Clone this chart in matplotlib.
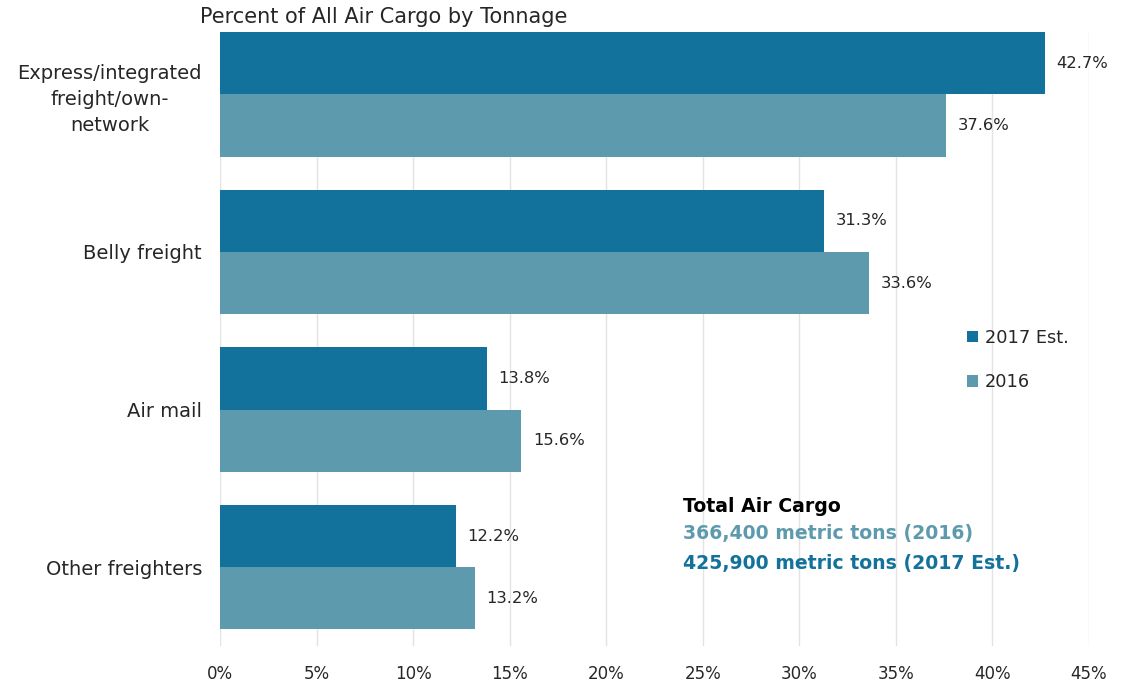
import matplotlib.pyplot as plt
import numpy as np

categories = ['Express/integrated\nfreight/own-\nnetwork', 'Belly freight', 'Air mail', 'Other freighters']
est_2017 = [42.7, 31.3, 13.8, 12.2]
val_2016 = [37.6, 33.6, 15.6, 13.2]
xticks = [0, 5, 10, 15, 20, 25, 30, 35, 40, 45]

dark = '#13729c'
light = '#5e9aad'
txt = '#262626'

plt.rcParams['font.family'] = ['DejaVu Sans']

fig = plt.figure(figsize=(11.29, 6.87), dpi=100)
ax = fig.add_axes([0.1949, 0.0597, 0.7697, 0.8937])

pos = np.arange(len(categories))[::-1]
h = 0.395
b1 = ax.barh(pos + h / 2, est_2017, height=h, color=dark, label='2017 Est.')
b2 = ax.barh(pos - h / 2, val_2016, height=h, color=light, label='2016')

for bars, vals in ((b1, est_2017), (b2, val_2016)):
    for bar, v in zip(bars, vals):
        ax.text(v + 0.6, bar.get_y() + bar.get_height() / 2, f'{v:.1f}%',
                va='center', ha='left', fontsize=11.8, color=txt)

ax.set_xlim(0, 45)
ax.set_ylim(-0.5, 3.395)
ax.set_xticks(xticks)
ax.set_xticklabels([f'{t}%' for t in xticks], fontsize=12, color=txt)
ax.set_yticks(pos)
ax.set_yticklabels(categories, fontsize=14, color=txt, ha='right',
                   multialignment='center', linespacing=1.45)
ax.tick_params(axis='y', length=0, pad=13)
ax.tick_params(axis='x', length=0, pad=14)
ax.xaxis.grid(True, color='#e3e3e3', linewidth=1)
ax.set_axisbelow(True)
for s in ax.spines.values():
    s.set_visible(False)

fig.text(200 / 1129, 1 - 17 / 687, 'Percent of All Air Cargo by Tonnage',
         fontsize=15, color=txt, va='center', ha='left')

leg = ax.legend(loc='center left', bbox_to_anchor=(951 / 1129, 1 - 360 / 687),
                bbox_transform=fig.transFigure, frameon=False, fontsize=12.8,
                handlelength=0.6, handleheight=0.6, handletextpad=0.4,
                labelspacing=1.5)
for t in leg.get_texts():
    t.set_color(txt)

fig.text(683 / 1129, 1 - 507 / 687, 'Total Air Cargo', fontsize=13.6,
         fontweight='bold', color='black', va='center')
fig.text(683 / 1129, 1 - 534 / 687, '366,400 metric tons (2016)', fontsize=13.6,
         fontweight='bold', color=light, va='center')
fig.text(683 / 1129, 1 - 563 / 687, '425,900 metric tons (2017 Est.)', fontsize=13.6,
         fontweight='bold', color=dark, va='center')

fig.savefig('out.png', dpi=100)
